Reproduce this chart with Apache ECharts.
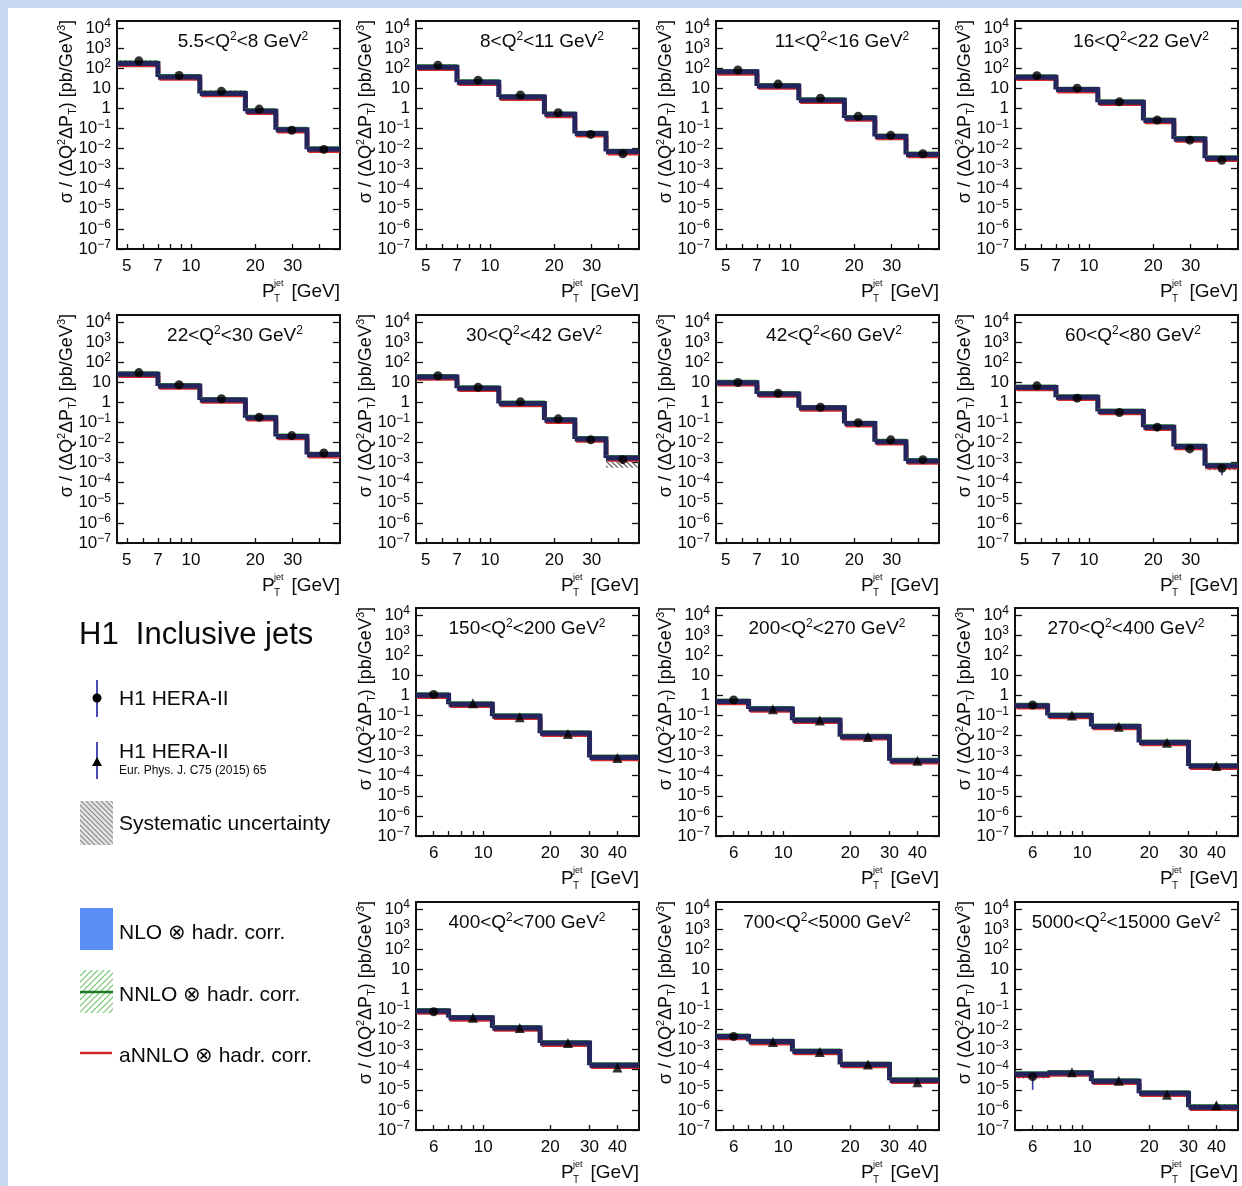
<!DOCTYPE html>
<html>
<head>
    <meta charset="utf-8">
    <style>
        html, body { margin: 0; padding: 0; background: #c7d9f0; }
        #sheet { position: absolute; left: 8px; top: 8px; width: 1234px; height: 1178px; background: #fff; }
        #chart-container { position: absolute; left: 0; top: 0; width: 1242px; height: 1186px; }
    </style>
</head>
<body>
    <div id="sheet"></div>
    <div id="chart-container"></div>

    <script type="text/javascript" src="https://cdn.jsdelivr.net/npm/echarts@6/dist/echarts.min.js"></script>
    <script type="text/javascript">
        // ---- data ----
        var q2Low  = ['5.5', '8', '11', '16', '22', '30', '42', '60', '150', '200', '270', '400', '700', '5000'];
        var q2High = ['8', '11', '16', '22', '30', '42', '60', '80', '200', '270', '400', '700', '5000', '15000'];

        // P_T^jet bin edges: low Q2 (first 8 panels) and high Q2 (last 6)
        var ptEdgesLow  = [4.5, 7, 11, 18, 25, 35, 50];
        var ptEdgesHigh = [5, 7, 11, 18, 30, 50];
        var ptMeanLow   = [5.7, 8.8, 13.9, 20.9, 29.7, 42];
        var ptMeanHigh  = [6.0, 9.0, 14.6, 24, 40];

        var xLabelsLow  = [5, 7, 10, 20, 30];
        var xLabelsHigh = [6, 10, 20, 30, 40];
        var xTicksLow   = [5, 6, 7, 8, 9, 10, 20, 30, 40];
        var xTicksHigh  = [6, 7, 8, 9, 10, 20, 30, 40];
        var yTicks = [1e-7, 1e-6, 1e-5, 1e-4, 1e-3, 1e-2, 1e-1, 1, 10, 100, 1e3, 1e4];

        // theory prediction (NLO / NNLO / aNNLO, overlapping at this scale), pb/GeV^3
        var theoryXsec = [
            [170, 36, 5.5, 0.72, 0.085, 0.0091],
            [110, 20, 3.6, 0.5, 0.055, 0.007],
            [65, 13, 2.5, 0.33, 0.04, 0.005],
            [35, 8.5, 2.0, 0.25, 0.03, 0.0033],
            [25, 6.5, 1.3, 0.17, 0.02, 0.0025],
            [18, 5.0, 0.87, 0.13, 0.015, 0.0017],
            [9.3, 2.6, 0.53, 0.087, 0.011, 0.0012],
            [5.4, 1.8, 0.35, 0.058, 0.0063, 0.0007],
            [1.0, 0.36, 0.09, 0.013, 0.0008],
            [0.49, 0.21, 0.057, 0.0086, 0.00056],
            [0.3, 0.1, 0.028, 0.0045, 0.0003],
            [0.083, 0.038, 0.012, 0.0021, 0.000165],
            [0.0045, 0.0025, 0.0008, 0.00018, 0.00003],
            [6e-5, 6.8e-5, 2.7e-5, 6.8e-6, 1.35e-6]
        ];

        // H1 data points
        var h1Xsec = [
            [230, 43, 7.1, 0.91, 0.081, 0.009],
            [140, 25, 4.6, 0.6, 0.05, 0.0055],
            [80, 16, 3.2, 0.4, 0.045, 0.0055],
            [42, 10, 2.1, 0.26, 0.026, 0.0026],
            [30, 7.5, 1.5, 0.18, 0.022, 0.003],
            [21, 5.6, 1.05, 0.15, 0.0135, 0.0014],
            [9.6, 2.8, 0.57, 0.097, 0.0135, 0.0014],
            [6.6, 1.6, 0.31, 0.058, 0.0048, 0.00052],
            [1.1, 0.4, 0.08, 0.012, 0.00075],
            [0.59, 0.2, 0.055, 0.0083, 0.00056],
            [0.33, 0.1, 0.027, 0.0043, 0.0003],
            [0.076, 0.038, 0.012, 0.0021, 0.00013],
            [0.0045, 0.0024, 0.00075, 0.00018, 0.000024],
            [4.5e-5, 7.4e-5, 2.8e-5, 5.6e-6, 1.7e-6]
        ];

        // relative statistical and systematic uncertainties
        var h1StatErr = [
            [0.05, 0.05, 0.05, 0.06, 0.08, 0.15],
            [0.05, 0.05, 0.05, 0.06, 0.1, 0.2],
            [0.05, 0.05, 0.05, 0.06, 0.1, 0.2],
            [0.05, 0.05, 0.05, 0.06, 0.1, 0.2],
            [0.05, 0.05, 0.05, 0.06, 0.1, 0.2],
            [0.05, 0.05, 0.05, 0.06, 0.1, 0.25],
            [0.05, 0.05, 0.05, 0.06, 0.1, 0.25],
            [0.05, 0.05, 0.05, 0.08, 0.15, 0.55],
            [0.05, 0.05, 0.05, 0.06, 0.1],
            [0.05, 0.05, 0.05, 0.06, 0.1],
            [0.05, 0.05, 0.05, 0.06, 0.1],
            [0.05, 0.05, 0.05, 0.06, 0.15],
            [0.08, 0.05, 0.06, 0.08, 0.2],
            [0.78, 0.15, 0.15, 0.2, 0.3]
        ];
        var h1SysErr = [
            [0.1, 0.1, 0.1, 0.1, 0.12, 0.15],
            [0.1, 0.1, 0.1, 0.1, 0.12, 0.15],
            [0.1, 0.1, 0.1, 0.1, 0.12, 0.15],
            [0.1, 0.1, 0.1, 0.1, 0.12, 0.15],
            [0.1, 0.1, 0.1, 0.1, 0.12, 0.15],
            [0.1, 0.1, 0.1, 0.1, 0.12, 0.6],
            [0.1, 0.1, 0.1, 0.1, 0.12, 0.2],
            [0.1, 0.1, 0.1, 0.1, 0.15, 0.2],
            [0.1, 0.1, 0.1, 0.1, 0.12],
            [0.1, 0.1, 0.1, 0.1, 0.12],
            [0.1, 0.1, 0.1, 0.1, 0.12],
            [0.1, 0.1, 0.1, 0.1, 0.12],
            [0.1, 0.1, 0.1, 0.1, 0.15],
            [0.2, 0.1, 0.1, 0.1, 0.15]
        ];

        // ---- layout ----
        var FONT = '"Liberation Sans", Arial, Helvetica, sans-serif';
        var INK = '#0a0a0a';
        var colLeft = [117, 416, 716, 1015];
        var rowTop = [21, 315, 608, 902];
        var plotW = 223, plotH = 228;
        var panelCell = [[0,0],[0,1],[0,2],[0,3],[1,0],[1,1],[1,2],[1,3],[2,1],[2,2],[2,3],[3,1],[3,2],[3,3]];
        var titleDx = [126, 118, 111, 111];

        // hatch patterns for the uncertainty boxes
        function hatch(color, bg, forward, size) {
            var c = document.createElement('canvas');
            c.width = c.height = size;
            var g = c.getContext('2d');
            if (bg) { g.fillStyle = bg; g.fillRect(0, 0, size, size); }
            g.strokeStyle = color;
            g.lineWidth = 1.2;
            g.beginPath();
            if (forward) {
                g.moveTo(0, size); g.lineTo(size, 0);
                g.moveTo(-2, 2); g.lineTo(2, -2);
                g.moveTo(size - 2, size + 2); g.lineTo(size + 2, size - 2);
            } else {
                g.moveTo(0, 0); g.lineTo(size, size);
                g.moveTo(size - 2, -2); g.lineTo(size + 2, 2);
                g.moveTo(-2, size - 2); g.lineTo(2, size + 2);
            }
            g.stroke();
            return c;
        }
        var sysPattern = { image: hatch('#555', null, false, 5), repeat: 'repeat' };
        var legSysPattern = { image: hatch('#8a8a8a', '#e4e4e4', false, 5), repeat: 'repeat' };
        var legNnloPattern = { image: hatch('#72c672', '#ffffff', true, 6), repeat: 'repeat' };

        var theoryLayers = [
            { dx: 1.5, dy: 2.8, width: 2, color: '#d42a2a' },
            { dx: 0, dy: -2.2, width: 1.5, color: '#2f8f3a' },
            { dx: 0, dy: 0, width: 5, color: '#23255c' }
        ];

        function powLabel(v) {
            var e = Math.round(Math.log10(v));
            if (e === 0) return '1';
            if (e === 1) return '10';
            return '10{s|' + (e < 0 ? '\u2212' + (-e) : e) + '}';
        }

        var grids = [], xAxes = [], yAxes = [], series = [], graphic = [];

        panelCell.forEach(function (cell, p) {
            var row = cell[0], col = cell[1];
            var left = colLeft[col], top = rowTop[row];
            var lowQ2 = p < 8;
            var edges = lowQ2 ? ptEdgesLow : ptEdgesHigh;
            var means = lowQ2 ? ptMeanLow : ptMeanHigh;
            var theory = theoryXsec[p], data = h1Xsec[p];

            grids.push({ left: left, top: top, width: plotW, height: plotH, show: true,
                borderColor: '#111', borderWidth: 2, backgroundColor: 'transparent' });

            xAxes.push({
                type: 'log', logBase: 10, gridIndex: p, min: edges[0], max: 50,
                axisLine: { show: false }, splitLine: { show: false },
                axisTick: { show: true, inside: true, length: 5, customValues: lowQ2 ? xTicksLow : xTicksHigh,
                    lineStyle: { color: '#111', width: 1.3 } },
                axisLabel: { customValues: lowQ2 ? xLabelsLow : xLabelsHigh, margin: 9, fontSize: 17,
                    fontFamily: FONT, color: INK, formatter: function (v) { return String(Math.round(v)); } }
            });
            var yBase = {
                type: 'log', logBase: 10, gridIndex: p, min: 1e-7, max: 2.2e4,
                axisLine: { show: false }, splitLine: { show: false }
            };
            yAxes.push(Object.assign({}, yBase, {
                position: 'left',
                axisTick: { show: true, inside: true, length: 7, customValues: yTicks, lineStyle: { color: '#111', width: 1.3 } },
                axisLabel: { customValues: yTicks, margin: 6, fontSize: 17, lineHeight: 20, fontFamily: FONT, color: INK,
                    formatter: powLabel,
                    rich: { s: { fontSize: 12, lineHeight: 10, verticalAlign: 'top', fontFamily: FONT, color: INK } } }
            }));
            yAxes.push(Object.assign({}, yBase, {
                position: 'right',
                axisTick: { show: true, inside: true, length: 7, customValues: yTicks, lineStyle: { color: '#111', width: 1.3 } },
                axisLabel: { show: false }
            }));

            // systematic uncertainty (hatched)
            series.push({
                type: 'custom', xAxisIndex: p, yAxisIndex: 2 * p, z: 2, silent: true, clip: true,
                data: data.map(function (d, j) { return [means[j], d, h1SysErr[p][j]]; }),
                renderItem: function (params, api) {
                    var j = params.dataIndex, d = api.value(1), s = api.value(2);
                    var a = api.coord([edges[j], d * (1 + s)]);
                    var b = api.coord([edges[j + 1], d * (1 - s)]);
                    return { type: 'rect', shape: { x: a[0], y: a[1], width: b[0] - a[0], height: b[1] - a[1] },
                        style: { fill: sysPattern } };
                }
            });

            // theory step histogram
            series.push({
                type: 'custom', xAxisIndex: p, yAxisIndex: 2 * p, z: 3, silent: true, clip: true,
                data: theory.map(function (v, j) { return [edges[j], v]; }),
                renderItem: function (params, api) {
                    var j = params.dataIndex;
                    var pts = [api.coord([edges[j], theory[j]]), api.coord([edges[j + 1], theory[j]])];
                    if (j + 1 < theory.length) pts.push(api.coord([edges[j + 1], theory[j + 1]]));
                    return {
                        type: 'group',
                        children: theoryLayers.map(function (L) {
                            return { type: 'polyline',
                                shape: { points: pts.map(function (q) { return [q[0] + L.dx, q[1] + L.dy]; }) },
                                style: { stroke: L.color, lineWidth: L.width, fill: null } };
                        })
                    };
                }
            });

            // statistical error bars
            series.push({
                type: 'custom', xAxisIndex: p, yAxisIndex: 2 * p, z: 4, silent: true, clip: true,
                data: data.map(function (d, j) { return [means[j], d, h1StatErr[p][j]]; }),
                renderItem: function (params, api) {
                    var x = api.value(0), d = api.value(1), e = api.value(2);
                    var a = api.coord([x, d * (1 + e)]), b = api.coord([x, d * (1 - e)]);
                    return { type: 'line', shape: { x1: a[0], y1: a[1], x2: b[0], y2: b[1] },
                        style: { stroke: '#3a3aa6', lineWidth: 1.6 } };
                }
            });

            // data markers: circles = new measurement, triangles = EPJC75 (2015) 65
            series.push({
                type: 'scatter', xAxisIndex: p, yAxisIndex: 2 * p, z: 5, silent: true,
                data: data.map(function (d, j) {
                    var old = !lowQ2 && j > 0;
                    return { value: [means[j], d], symbol: old ? 'triangle' : 'circle', symbolSize: old ? 10 : 9 };
                }),
                itemStyle: { color: '#000' }
            });

            // panel title
            graphic.push({ type: 'text', x: left + titleDx[row], y: top + 21, z: 10,
                style: { text: q2Low[p] + '<Q{s|2}<' + q2High[p] + ' GeV{s|2}', fontSize: 19, fontFamily: FONT,
                    fill: INK, align: 'center', verticalAlign: 'middle', lineHeight: 22,
                    rich: { s: { fontSize: 12, lineHeight: 12, verticalAlign: 'top', fontFamily: FONT, fill: INK } } } });

            // y title
            graphic.push({ type: 'text', x: left - 50, y: top - 1, rotation: Math.PI / 2, z: 10,
                style: { text: '\u03c3 / (\u0394Q{s|2}\u0394P{b|T}) [pb/GeV{s|3}]', fontSize: 18, fontFamily: FONT,
                    fill: INK, align: 'right', verticalAlign: 'middle', lineHeight: 22,
                    rich: { s: { fontSize: 11, lineHeight: 11, verticalAlign: 'top', fontFamily: FONT, fill: INK },
                            b: { fontSize: 11, lineHeight: 11, verticalAlign: 'bottom', fontFamily: FONT, fill: INK } } } });

            // x title  P_T^jet [GeV]
            var right = left + plotW, ty = top + plotH + 43;
            graphic.push({ type: 'text', x: right, y: ty, style: { text: '[GeV]', fontSize: 19, fontFamily: FONT,
                fill: INK, align: 'right', verticalAlign: 'middle' } });
            graphic.push({ type: 'text', x: right - 78, y: ty, style: { text: 'P', fontSize: 19, fontFamily: FONT,
                fill: INK, align: 'left', verticalAlign: 'middle' } });
            graphic.push({ type: 'text', x: right - 66, y: ty - 8, style: { text: 'jet', fontSize: 9, fontFamily: FONT,
                fill: INK, align: 'left', verticalAlign: 'middle' } });
            graphic.push({ type: 'text', x: right - 66, y: ty + 7, style: { text: 'T', fontSize: 10, fontFamily: FONT,
                fill: INK, align: 'left', verticalAlign: 'middle' } });
        });

        // ---- legend block ----
        function legText(x, y, txt, size) {
            return { type: 'text', x: x, y: y, style: { text: txt, fontSize: size, fontFamily: FONT, fill: INK,
                align: 'left', verticalAlign: 'middle' } };
        }
        graphic.push(legText(79, 635, 'H1  Inclusive jets', 31));
        graphic.push({ type: 'line', shape: { x1: 97, y1: 680, x2: 97, y2: 717 }, style: { stroke: '#4a4ab0', lineWidth: 2 } });
        graphic.push({ type: 'circle', shape: { cx: 97, cy: 698, r: 4.5 }, style: { fill: '#000' } });
        graphic.push(legText(119, 699, 'H1 HERA-II', 21));
        graphic.push({ type: 'line', shape: { x1: 97, y1: 742, x2: 97, y2: 779 }, style: { stroke: '#4a4ab0', lineWidth: 2 } });
        graphic.push({ type: 'polygon', shape: { points: [[97, 757], [92, 766], [102, 766]] }, style: { fill: '#000' } });
        graphic.push(legText(119, 752, 'H1 HERA-II', 21));
        graphic.push(legText(119, 771, 'Eur. Phys. J. C75 (2015) 65', 12));
        graphic.push({ type: 'rect', shape: { x: 80, y: 801, width: 33, height: 44 }, style: { fill: legSysPattern } });
        graphic.push(legText(119, 824, 'Systematic uncertainty', 21));

        graphic.push({ type: 'rect', shape: { x: 80, y: 908, width: 33, height: 42 }, style: { fill: '#5b8df6' } });
        graphic.push(legText(119, 933, 'NLO \u2297 hadr. corr.', 21));
        graphic.push({ type: 'rect', shape: { x: 80, y: 970, width: 33, height: 43 }, style: { fill: legNnloPattern } });
        graphic.push({ type: 'line', shape: { x1: 80, y1: 992, x2: 113, y2: 992 }, style: { stroke: '#1f7a26', lineWidth: 2.5 } });
        graphic.push(legText(119, 995, 'NNLO \u2297 hadr. corr.', 21));
        graphic.push({ type: 'line', shape: { x1: 80, y1: 1053, x2: 112, y2: 1053 }, style: { stroke: '#cc2a2a', lineWidth: 2.5 } });
        graphic.push(legText(119, 1056, 'aNNLO \u2297 hadr. corr.', 21));

        var myChart = echarts.init(document.getElementById('chart-container'), null, { renderer: 'canvas' });
        myChart.setOption({
            animation: false,
            backgroundColor: 'transparent',
            grid: grids,
            xAxis: xAxes,
            yAxis: yAxes,
            series: series,
            graphic: graphic
        });
    </script>
</body>
</html>
